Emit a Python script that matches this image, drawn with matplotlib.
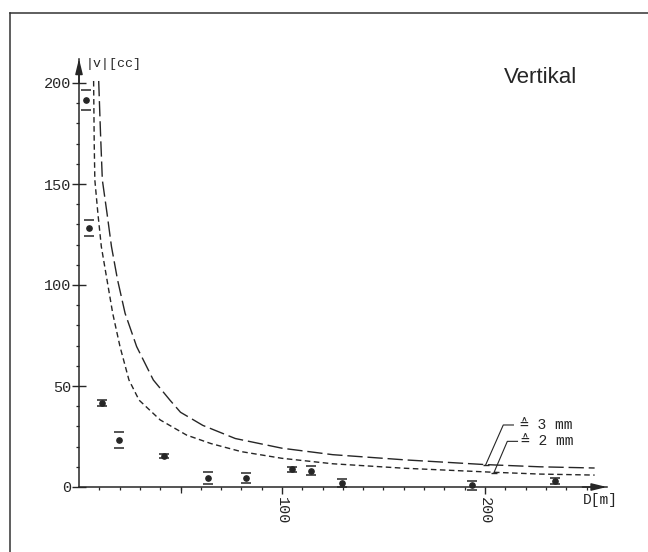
import matplotlib
matplotlib.use("Agg")
import matplotlib.pyplot as plt
from matplotlib.lines import Line2D

plt.rcParams['lines.scale_dashes'] = False

# ---- data ----
# measured points: distance D [m], |v| [cc], half error bar [cc]
meas_D = [3.4, 4.9, 11.1, 19.7, 41.7, 63.4, 82.5, 104.7, 114.5, 129.5, 193.5, 234.5]
meas_v = [191.6, 128.4, 41.4, 23.1, 15.3, 4.3, 4.5, 8.7, 8.0, 1.8, 0.8, 3.0]
meas_err = [5.0, 4.0, 1.5, 4.0, 1.0, 3.0, 2.3, 1.3, 2.2, 2.0, 2.3, 1.5]

# curve "3 mm" (long dashes)
c3_D = [9.7, 10.6, 11.5, 13.8, 16.0, 19.0, 22.7, 28.4, 36.6, 44.8, 50, 61, 77, 100, 125, 161, 200, 227, 254]
c3_v = [201, 175, 152, 135.5, 119, 102.5, 86, 69.5, 53, 43, 37, 30.5, 24, 19.2, 16, 13.4, 11.1, 10.0, 9.4]

# curve "2 mm" (short dashes)
c2_D = [7.2, 7.5, 7.8, 9.3, 11.0, 13.8, 16.6, 20.2, 24.6, 29.6, 40, 53, 65, 80, 100, 125, 160, 204, 227, 254]
c2_v = [201, 170, 152, 135.5, 119, 102.5, 86, 69.5, 53, 43, 33.2, 25.7, 21.5, 17.5, 14.2, 11.5, 9.3, 7.3, 6.4, 5.9]

y_ticks = [0, 50, 100, 150, 200]
y_ticklabels = ['0', '50', '100', '150', '200']
x_ticks = [100, 200]
x_ticklabels = ['100', '200']

label_3mm = '≙ 3 mm'
label_2mm = '≙ 2 mm'
title_text = 'Vertikal'
ylabel_text = '|v|[cc]'
xlabel_text = 'D[m]'

ink = '#262626'
mono = ['Liberation Mono', 'DejaVu Sans Mono', 'DejaVu Sans']

W, H = 648, 552
fig = plt.figure(figsize=(W / 100, H / 100), dpi=100)
fig.patch.set_facecolor('white')

x0, y0 = 79, 487          # pixel position of origin
xmax, ymax = 260, 212
px_x, px_y = 2.03, 2.02   # pixels per unit
ax = fig.add_axes([x0 / W, (H - y0) / H, xmax * px_x / W, ymax * px_y / H])
ax.set_xlim(0, xmax)
ax.set_ylim(0, ymax)
ax.set_facecolor('none')

for s in ['top', 'right']:
    ax.spines[s].set_visible(False)
for s in ['left', 'bottom']:
    ax.spines[s].set_linewidth(1.1)
    ax.spines[s].set_color(ink)

# arrows on the axes
ax.annotate('', xy=(0, ymax), xytext=(0, ymax - 12),
            arrowprops=dict(arrowstyle='-|>,head_length=0.9,head_width=0.22',
                            color=ink, lw=1.1, shrinkA=0, shrinkB=0),
            annotation_clip=False)
ax.annotate('', xy=(xmax, 0), xytext=(xmax - 12, 0),
            arrowprops=dict(arrowstyle='-|>,head_length=0.9,head_width=0.22',
                            color=ink, lw=1.1, shrinkA=0, shrinkB=0),
            annotation_clip=False)

# ticks
ax.set_yticks(y_ticks)
ax.set_yticklabels(y_ticklabels, family=mono, fontsize=11, color=ink)
ax.set_yticks(range(10, 210, 10), minor=True)
ax.tick_params(axis='y', which='major', direction='inout', length=10, width=1.0, pad=0.5, colors=ink)
ax.tick_params(axis='y', which='minor', direction='out', length=2.5, width=0.9, colors=ink)

ax.set_xticks(x_ticks)
ax.set_xticklabels(x_ticklabels, family=mono, fontsize=11, color=ink, rotation=270)
ax.set_xticks([t for t in range(10, 260, 10) if t not in (100, 200)], minor=True)
ax.tick_params(axis='x', which='major', direction='out', length=5, width=1.0, pad=2, colors=ink)
ax.tick_params(axis='x', which='minor', direction='out', length=2.5, width=0.9, colors=ink)
# slightly longer mark at D = 50
ax.plot([50], [0], marker=3, color=ink, ms=4.5, mew=0.9, clip_on=False)

# curves
ax.plot(c3_D, c3_v, color=ink, lw=1.0, linestyle=(0, (11, 3.5)), clip_on=False)
ax.plot(c2_D, c2_v, color=ink, lw=1.0, linestyle=(0, (4, 2.5)), clip_on=False)

# measurements
eb = ax.errorbar(meas_D, meas_v, yerr=meas_err, fmt='o', color=ink, ms=3.8,
                 capsize=3.6, capthick=1.1, elinewidth=0.6, clip_on=False)
for c in eb[2]:
    c.set_visible(False)

# leader lines with labels
ax.plot([214, 209.0, 200.3], [30.7, 30.7, 10.9], color=ink, lw=0.8, clip_on=False)
ax.plot([216, 211.0, 204.4], [22.6, 22.6, 7.1], color=ink, lw=0.8, clip_on=False)
ax.plot([200.3], [10.9], marker='_', color=ink, ms=4, mew=1.0)
ax.plot([204.4], [7.1], marker='_', color=ink, ms=4, mew=1.0)
ax.text(217.0, 30.7, label_3mm, family=mono, fontsize=10.5, color=ink, va='center', ha='left')
ax.text(217.5, 22.8, label_2mm, family=mono, fontsize=10.5, color=ink, va='center', ha='left')

# axis labels
ax.text(3.4, 209.5, ylabel_text, family=mono, fontsize=9.5, color=ink, va='center', ha='left', clip_on=False)
ax.text(248.3, -6.5, xlabel_text, family=mono, fontsize=10.5, color=ink, va='center', ha='left', clip_on=False)

# title
fig.text(541 / W, 1 - 77 / H, title_text, family=['Liberation Sans', 'DejaVu Sans'],
         fontsize=16, color=ink, ha='center', va='center')

# outer frame (top and left edges)
fy = 1 - 12.5 / H
fx = 9.5 / W
fig.add_artist(Line2D([fx, 1.0], [fy, fy], transform=fig.transFigure, color='#333333', lw=1.1))
fig.add_artist(Line2D([fx, fx], [0.0, fy], transform=fig.transFigure, color='#333333', lw=1.1))

fig.savefig('out.png', dpi=100, facecolor='white')
